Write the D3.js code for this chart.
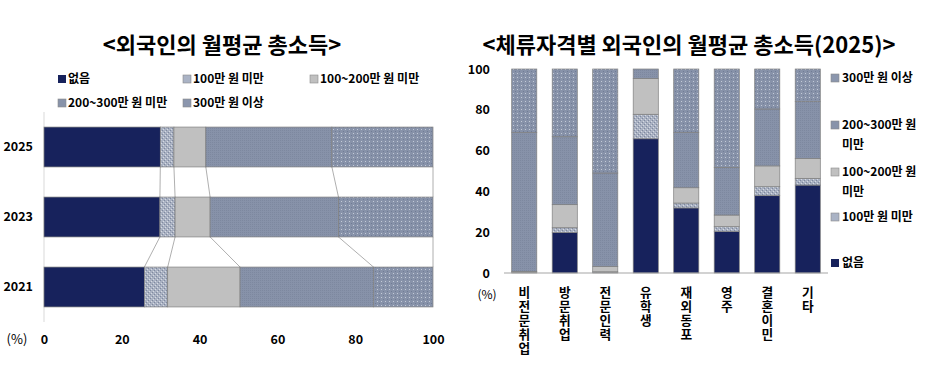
<!DOCTYPE html>
<html><head><meta charset="utf-8">
<script src="https://cdn.jsdelivr.net/npm/d3@7"></script>
<style>
html,body{margin:0;padding:0;background:#fff;}
svg text{font-family:"Noto Sans CJK KR","Noto Sans",sans-serif;font-weight:bold;fill:#000;}
svg text.vch{font-family:"Liberation Sans","Noto Sans CJK KR",sans-serif;}
</style></head><body>
<script>
// ---------- DATA ----------
const seriesNames = ["없음","100만 원 미만","100~200만 원 미만","200~300만 원 미만","300만 원 이상"];
// Left chart: years
const years = ["2025","2023","2021"];
const yrNone   = [29.9, 29.8, 25.8];
const yrUnder100 = [3.5, 3.9, 6.0];
const yr100to200 = [8.2, 9.0, 18.6];
const yr200to300 = [32.4, 33.0, 34.3];
const yrOver300  = [26.0, 24.3, 15.3];
const xTicks = [0,20,40,60,80,100];
// Right chart: visa status (2025)
const visaCats = ["비전문취업","방문취업","전문인력","유학생","재외동포","영주","결혼이민","기타"];
const vNone     = [0.0, 19.8, 0.3, 65.8, 31.9, 20.3, 37.9, 43.1];
const vUnder100 = [0.2, 2.4, 0.3, 12.0, 2.4, 2.4, 4.4, 3.3];
const v100to200 = [0.6, 11.3, 2.6, 17.6, 7.5, 5.7, 10.2, 9.8];
const v200to300 = [68.0, 33.3, 45.8, 4.6, 27.0, 23.4, 27.9, 27.8];
const vOver300  = [31.2, 33.2, 51.0, 0.0, 31.2, 48.2, 19.6, 16.0];
const yTicks = [0,20,40,60,80,100];
const leftTitle = "<외국인의 월평균 총소득>";
const rightTitle = "<체류자격별 외국인의 월평균 총소득(2025)>";
// right legend lines (wrapped as in the original)
const rightLegend = [["300만 원 이상"],["200~300만 원","미만"],["100~200만 원","미만"],["100만 원 미만"],["없음"]];

// ---------- SETUP ----------
const W=950,H=383;
const svg=d3.select("body").append("svg").attr("width",W).attr("height",H);
const defs=svg.append("defs");
function pattern(id,size,base,pix){
  const p=defs.append("pattern").attr("id",id).attr("patternUnits","userSpaceOnUse").attr("width",size).attr("height",size);
  p.append("rect").attr("width",size).attr("height",size).attr("fill",base);
  pix.forEach(d=>p.append("rect").attr("x",d[0]).attr("y",d[1]).attr("width",1).attr("height",1).attr("fill",d[2]));
}
pattern("p100",4,"#a9b1c2",[[0,0,"#7f899f"],[2,2,"#7f899f"],[1,3,"#d6dae2"],[3,1,"#d6dae2"]]);
pattern("p200",2,"#8792a9",[[0,0,"#7d889f"]]);
pattern("p300",4,"#8792a9",[[1,1,"#c3cad7"],[3,3,"#707c95"]]);
const fills=["#17225c","url(#p100)","#c0c0c0","url(#p200)","url(#p300)"];
const legendFills=["#17225c","#aab3c5","#c0c0c0","#8893aa","#8b96ad"];
const strokeCol="#7f7f7f";

// ---------- LEFT CHART ----------
const leftRows = years.map((y,i)=>({cat:y, vals:[yrNone[i],yrUnder100[i],yr100to200[i],yr200to300[i],yrOver300[i]]}));
const x=d3.scaleLinear().domain([0,100]).range([44,433]);
const yb=d3.scaleBand().domain(years).range([112,322]).paddingInner(0.43).paddingOuter(0.215);
const stackL=d3.stack().keys(d3.range(5)).value((d,k)=>d.vals[k]);
const sL=stackL(leftRows);
const gL=svg.append("g");
gL.append("line").attr("x1",x(0)).attr("x2",x(0)).attr("y1",112).attr("y2",322).attr("stroke","#d9d9d9");
// connector lines
for(let i=0;i<years.length-1;i++){
  sL.forEach(layer=>{
    gL.append("line")
      .attr("x1",x(layer[i][1])).attr("y1",yb(years[i])+yb.bandwidth())
      .attr("x2",x(layer[i+1][1])).attr("y2",yb(years[i+1]))
      .attr("stroke","#9a9a9a").attr("stroke-width",0.8);
  });
}
sL.forEach((layer,k)=>{
  gL.selectAll(null).data(layer).enter().append("rect")
    .attr("x",d=>x(d[0])).attr("width",d=>x(d[1])-x(d[0]))
    .attr("y",d=>yb(d.data.cat)).attr("height",yb.bandwidth())
    .attr("fill",fills[k]).attr("stroke",strokeCol).attr("stroke-width",0.7);
});
gL.selectAll(null).data(years).enter().append("text")
  .attr("x",33).attr("y",d=>yb(d)+yb.bandwidth()/2).attr("dy","0.35em")
  .attr("text-anchor","end").attr("font-size",12.5).text(d=>d);
const xAxis=d3.axisBottom(x).tickValues(xTicks).tickSize(0).tickFormat(d3.format("d"));
const gx=gL.append("g").attr("transform","translate(0,332)").call(xAxis);
gx.select(".domain").remove();
gx.selectAll("text").attr("font-size",12.5).attr("font-family","Lato,'Noto Sans CJK KR',sans-serif").attr("font-weight","bold");
gL.append("text").attr("x",17).attr("y",344).attr("text-anchor","middle").attr("font-size",13).style("font-weight","normal").text("(%)");
// left legend
const legPos=[[58,79],[183,79],[310,79],[58,103],[183,103]];
seriesNames.forEach((n,k)=>{
  gL.append("rect").attr("x",legPos[k][0]).attr("y",legPos[k][1]-4).attr("width",8).attr("height",8)
    .attr("fill",k===0?fills[0]:legendFills[k]).attr("stroke",k===0?"none":"#8a8a8a").attr("stroke-width",0.6);
  gL.append("text").attr("x",legPos[k][0]+10).attr("y",legPos[k][1]).attr("dy","0.35em").attr("font-size",12).text(n);
});
svg.append("text").attr("x",222).attr("y",53).attr("text-anchor","middle").attr("font-size",22).text(leftTitle);

// ---------- RIGHT CHART ----------
const rightRows = visaCats.map((c,i)=>({cat:c, vals:[vNone[i],vUnder100[i],v100to200[i],v200to300[i],vOver300[i]]}));
const xb=d3.scaleBand().domain(visaCats).range([504,828]).paddingInner(0.38).paddingOuter(0.19);
const y=d3.scaleLinear().domain([0,100]).range([273,69]);
const sR=d3.stack().keys(d3.range(5)).value((d,k)=>d.vals[k])(rightRows);
const gR=svg.append("g");
sR.forEach((layer,k)=>{
  gR.selectAll(null).data(layer).enter().append("rect")
    .attr("x",d=>xb(d.data.cat)).attr("width",xb.bandwidth())
    .attr("y",d=>y(d[1])).attr("height",d=>y(d[0])-y(d[1]))
    .attr("fill",fills[k]).attr("stroke",strokeCol).attr("stroke-width",0.7);
});
gR.append("line").attr("x1",504).attr("x2",828).attr("y1",y(0)).attr("y2",y(0)).attr("stroke","#a6a6a6").attr("stroke-width",1.2);
const yAxis=d3.axisLeft(y).tickValues(yTicks).tickSize(0).tickPadding(0);
const gy=gR.append("g").attr("transform","translate(490,0)").call(yAxis);
gy.select(".domain").remove();
gy.selectAll("text").attr("font-size",12.5).attr("font-family","Lato,'Noto Sans CJK KR',sans-serif").attr("font-weight","bold");
gR.append("text").attr("x",487).attr("y",299).attr("text-anchor","middle").attr("font-size",12).style("font-weight","normal").text("(%)");
// vertical category labels (one character per line)
visaCats.forEach(c=>{
  const cx=xb(c)+xb.bandwidth()/2;
  Array.from(c).forEach((ch,j)=>{
    gR.append("text").attr("class","vch").attr("x",cx).attr("y",292+j*14.2).attr("dy","0.36em")
      .attr("text-anchor","middle").attr("font-size",12.7).text(ch);
  });
});
// right legend
const rlY=[78,125,172,217,263];
const rlOrder=[4,3,2,1,0];
rightLegend.forEach((lines,i)=>{
  const k=rlOrder[i];
  gR.append("rect").attr("x",831).attr("y",rlY[i]-4).attr("width",8).attr("height",8)
    .attr("fill",k===0?fills[0]:legendFills[k]).attr("stroke",k===0?"none":"#8a8a8a").attr("stroke-width",0.6);
  lines.forEach((l,j)=>{
    gR.append("text").attr("x",842).attr("y",rlY[i]+j*20).attr("dy","0.35em").attr("font-size",12).text(l);
  });
});
svg.append("text").attr("x",689).attr("y",53).attr("text-anchor","middle").attr("font-size",22).text(rightTitle);
</script>
</body></html>
